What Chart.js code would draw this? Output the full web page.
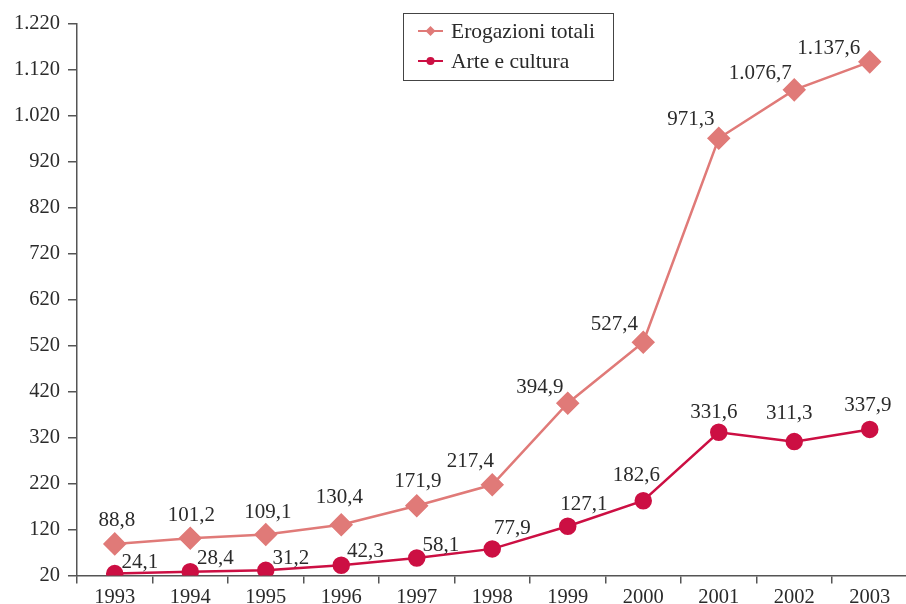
<!DOCTYPE html>
<html>
<head>
<meta charset="utf-8">
<script src="https://cdn.jsdelivr.net/npm/chart.js@4.4.1/dist/chart.umd.min.js"></script>
<style>
  html, body { margin: 0; padding: 0; background: #fff; overflow: hidden; }
  #wrap { width: 920px; height: 604px; }
</style>
</head>
<body>
<div id="wrap"><canvas id="chart" width="920" height="604"></canvas></div>
<script>
const anni = ["1993", "1994", "1995", "1996", "1997", "1998", "1999", "2000", "2001", "2002", "2003"];
const erogazioniTotali = [88.8, 101.2, 109.1, 130.4, 171.9, 217.4, 394.9, 527.4, 971.3, 1076.7, 1137.6];
const arteCultura = [24.1, 28.4, 31.2, 42.3, 58.1, 77.9, 127.1, 182.6, 331.6, 311.3, 337.9];

// spostamento etichette rispetto al punto (px)
const offErog = [[2, -23], [1, -23], [2, -22], [-2, -27], [1, -24], [-22, -23], [-28, -16], [-29, -18], [-28, -19], [-34, -16], [-41, -13]];
const offArte = [[25, -11], [25, -13], [25, -12], [24, -14], [24, -13], [20, -20], [16, -22], [-7, -25], [-5, -20], [-5, -28], [-2, -24]];

const coloreErog = '#e07a78';
const coloreArte = '#cc0f43';
const fontSerif = '"Liberation Serif", "DejaVu Serif", serif';

function formatta(v, dec) {
    const parti = v.toFixed(dec).split('.');
    parti[0] = parti[0].replace(/\B(?=(\d{3})+(?!\d))/g, '.');
    return parti.join(',');
}

const etichette = {
    id: 'etichette',
    afterDatasetsDraw(chart) {
        const ctx = chart.ctx;
        ctx.save();
        ctx.font = '21px ' + fontSerif;
        ctx.fillStyle = '#2a2a2a';
        ctx.textAlign = 'center';
        ctx.textBaseline = 'middle';
        [offErog, offArte].forEach((off, i) => {
            const meta = chart.getDatasetMeta(i);
            meta.data.forEach((p, j) => {
                const v = chart.data.datasets[i].data[j];
                ctx.fillText(formatta(v, 1), p.x + off[j][0], p.y + off[j][1]);
            });
        });
        ctx.restore();
    }
};

const legenda = {
    id: 'legenda',
    afterDraw(chart) {
        const ctx = chart.ctx;
        ctx.save();
        ctx.strokeStyle = '#444';
        ctx.lineWidth = 1;
        ctx.strokeRect(403.5, 13.5, 210, 67);
        ctx.font = '21.5px ' + fontSerif;
        ctx.textBaseline = 'middle';
        ctx.textAlign = 'left';
        chart.data.datasets.forEach((ds, i) => {
            const y = 31 + i * 30;
            ctx.strokeStyle = ds.borderColor;
            ctx.lineWidth = 2;
            ctx.beginPath();
            ctx.moveTo(418, y);
            ctx.lineTo(443, y);
            ctx.stroke();
            ctx.fillStyle = ds.borderColor;
            ctx.beginPath();
            if (i === 0) {
                ctx.moveTo(430.5, y - 5); ctx.lineTo(435.5, y); ctx.lineTo(430.5, y + 5); ctx.lineTo(425.5, y);
            } else {
                ctx.arc(430.5, y, 4, 0, Math.PI * 2);
            }
            ctx.closePath();
            ctx.fill();
            ctx.fillStyle = '#2a2a2a';
            ctx.fillText(ds.label, 451, y + 1);
        });
        ctx.restore();
    }
};

new Chart(document.getElementById('chart'), {
    type: 'line',
    data: {
        labels: anni,
        datasets: [
            {
                label: 'Erogazioni totali',
                data: erogazioniTotali,
                borderColor: coloreErog,
                backgroundColor: coloreErog,
                borderWidth: 2.5,
                pointStyle: 'rectRot',
                pointRadius: 10,
                pointHoverRadius: 10,
                tension: 0
            },
            {
                label: 'Arte e cultura',
                data: arteCultura,
                borderColor: coloreArte,
                backgroundColor: coloreArte,
                borderWidth: 2.5,
                pointStyle: 'circle',
                pointRadius: 7.5,
                pointHoverRadius: 7.5,
                tension: 0
            }
        ]
    },
    options: {
        responsive: false,
        animation: false,
        layout: { padding: { top: 24, right: 12, left: 0, bottom: 0 } },
        plugins: {
            legend: { display: false },
            tooltip: { enabled: false }
        },
        scales: {
            x: {
                offset: true,
                grid: {
                    offset: true,
                    drawOnChartArea: false,
                    drawTicks: true,
                    tickLength: 8,
                    color: '#555',
                    lineWidth: 1.5
                },
                border: { color: '#555', width: 1.5 },
                ticks: {
                    color: '#2a2a2a',
                    font: { family: fontSerif, size: 20.5 },
                    padding: 2,
                    maxRotation: 0
                },
                afterFit(scale) { scale.height = 28.5; }
            },
            y: {
                min: 20,
                max: 1220,
                grid: {
                    drawOnChartArea: false,
                    drawTicks: true,
                    tickLength: 9,
                    color: '#555',
                    lineWidth: 1.5
                },
                border: { color: '#555', width: 1.5 },
                ticks: {
                    stepSize: 100,
                    color: '#2a2a2a',
                    font: { family: fontSerif, size: 20.5 },
                    padding: 8,
                    callback: v => formatta(v, 0)
                },
                afterFit(scale) { scale.width = 77; }
            }
        }
    },
    plugins: [etichette, legenda]
});
</script>
</body>
</html>
